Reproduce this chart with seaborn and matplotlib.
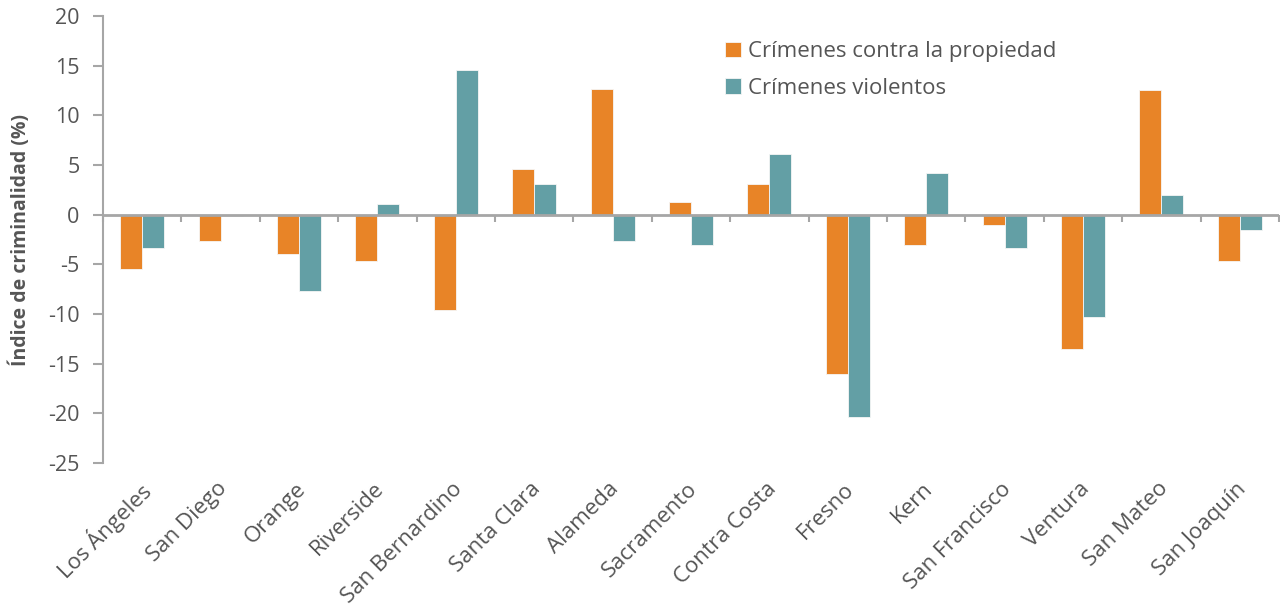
import matplotlib
matplotlib.use("Agg")
import matplotlib.pyplot as plt
import matplotlib.transforms as mtransforms
import seaborn as sns
import pandas as pd
import numpy as np

condados = ["Los Ángeles", "San Diego", "Orange", "Riverside", "San Bernardino",
            "Santa Clara", "Alameda", "Sacramento", "Contra Costa", "Fresno",
            "Kern", "San Francisco", "Ventura", "San Mateo", "San Joaquín"]
propiedad = [-5.5, -2.7, -4.0, -4.7, -9.6, 4.6, 12.7, 1.3, 3.1, -16.0,
             -3.1, -1.0, -13.5, 12.5, -4.7]
violentos = [-3.4, -0.1, -7.7, 1.1, 14.6, 3.1, -2.7, -3.1, 6.1, -20.4,
             4.2, -3.4, -10.3, 2.0, -1.5]
series = ["Crímenes contra la propiedad", "Crímenes violentos"]
colores = ["#E88427", "#639FA5"]
yticks = [-25, -20, -15, -10, -5, 0, 5, 10, 15, 20]

df = pd.DataFrame({
    "condado": condados * 2,
    "tipo": [series[0]] * len(condados) + [series[1]] * len(condados),
    "valor": propiedad + violentos,
})

sns.set_theme(style="white")
plt.rcParams["font.family"] = ["Open Sans", "DejaVu Sans"]
plt.rcParams["axes.unicode_minus"] = False

grey = "#A6A6A6"
txt = "#555555"

fig = plt.figure(figsize=(12.8, 6.06), dpi=100)
ax = fig.add_axes([103 / 1280, (606 - 463) / 606, (1279 - 103) / 1280, (463 - 16) / 606])

sns.barplot(data=df, x="condado", y="valor", hue="tipo", order=condados,
            hue_order=series, palette=colores, saturation=1, width=0.56, dodge=True,
            edgecolor="#F6F6F6", linewidth=0.6, ax=ax, legend=True)

ax.set_xlim(-0.5, len(condados) - 0.5)
ax.set_ylim(-25, 20)
ax.set_yticks(yticks)
ax.set_yticklabels([str(v) for v in yticks])
ax.set_xlabel("")
ax.set_ylabel("Índice de criminalidad (%)", fontsize=14, fontweight="bold",
              color=txt, labelpad=12)

for s in ["top", "right", "bottom"]:
    ax.spines[s].set_visible(False)
ax.spines["left"].set_color(grey)
ax.spines["left"].set_linewidth(1.5)

ax.tick_params(axis="y", left=True, length=7, width=1.5, color=grey,
               labelsize=15.5, labelcolor=txt, pad=10)
ax.tick_params(axis="x", bottom=False, length=0, labelsize=16, labelcolor=txt, pad=11)
ax.set_xticks(range(len(condados)))
ax.set_xticklabels(condados, rotation=45, ha="right", rotation_mode="anchor")
offset = mtransforms.ScaledTranslation(-4 / 100, 0, fig.dpi_scale_trans)
for lab in ax.get_xticklabels():
    lab.set_transform(lab.get_transform() + offset)

# zero axis line with category-boundary ticks
ax.axhline(0, color=grey, linewidth=2, zorder=5)
limites = np.arange(-0.5, len(condados), 1.0)
ax.vlines(limites, -0.72, 0, color=grey, linewidth=1.5, zorder=5, clip_on=False)

leg = ax.legend(loc="upper left", bbox_to_anchor=(714 / 1280, 1 - 30 / 606),
                bbox_transform=fig.transFigure, frameon=False, fontsize=16,
                handlelength=0.7, handleheight=0.7, handletextpad=0.35,
                labelspacing=0.7, borderpad=0)
for t in leg.get_texts():
    t.set_color(txt)

fig.savefig("out.png", dpi=100)
